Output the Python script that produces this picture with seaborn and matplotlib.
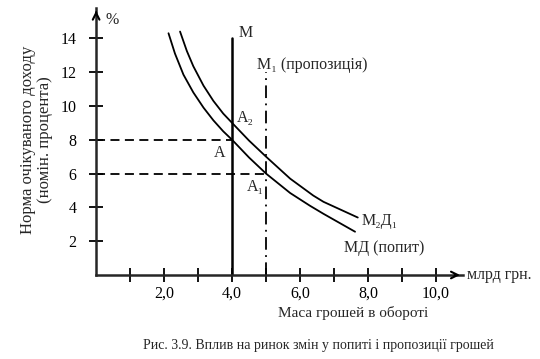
import matplotlib
matplotlib.use("Agg")
import matplotlib.pyplot as plt
import seaborn as sns
import pandas as pd

# demand curves
md_x = [2.13, 2.32, 2.57, 2.86, 3.16, 3.45, 3.74, 4.0, 4.5, 5.0, 5.71, 6.29, 6.69, 7.62]
md_y = [14.3, 13.1, 11.85, 10.8, 9.9, 9.15, 8.5, 8.0, 6.95, 6.0, 4.85, 4.1, 3.62, 2.56]
md1_x = [2.47, 2.67, 2.86, 3.16, 3.45, 3.74, 4.0, 4.5, 5.0, 5.71, 6.39, 6.69, 7.7]
md1_y = [14.4, 13.25, 12.35, 11.2, 10.3, 9.55, 9.0, 7.95, 7.0, 5.7, 4.7, 4.33, 3.4]

m_supply = 4.0
m1_supply = 5.0
rate_a = 8.0
rate_a1 = 6.0

x_ticks = [2, 4, 6, 8, 10]
x_labels = ["2,0", "4,0", "6,0", "8,0", "10,0"]
y_ticks = [2, 4, 6, 8, 10, 12, 14]

sns.set_theme(style="white")
plt.rcParams["font.family"] = ["Liberation Serif", "DejaVu Serif"]
plt.rcParams["axes.linewidth"] = 1.8

fig = plt.figure(figsize=(5.4, 3.59), dpi=100)
ax = fig.add_axes([0.178, 0.234, 0.679, 0.744])

df = pd.concat([
    pd.DataFrame({"x": md_x, "y": md_y, "curve": "MD"}),
    pd.DataFrame({"x": md1_x, "y": md1_y, "curve": "MD1"}),
])
sns.lineplot(data=df, x="x", y="y", units="curve", estimator=None, sort=False,
             color="black", lw=1.3, ax=ax)

# supply lines
ax.plot([m_supply, m_supply], [0, 14], color="black", lw=1.8)
ax.plot([m1_supply, m1_supply], [0, 12], color="black", lw=1.3, ls=(0, (7, 3, 1, 3)))
# guide lines
ax.plot([0, m_supply], [rate_a, rate_a], color="black", lw=1.3, ls=(0, (5, 3)))
ax.plot([0, m1_supply], [rate_a1, rate_a1], color="black", lw=1.3, ls=(0, (5, 3)))

ax.set_xlim(0, 10.79)
ax.set_ylim(0, 15.8)
sns.despine(ax=ax)
ax.set_xticks(x_ticks)
ax.set_xticklabels(x_labels)
ax.set_xticks([1, 3, 5, 7, 9], minor=True)
ax.set_yticks(y_ticks)
ax.tick_params(which="both", bottom=True, left=True, direction="inout", length=10,
               width=1.3, labelsize=11.5, color="black", labelcolor="black")
ax.tick_params(axis="x", pad=3)
ax.tick_params(axis="y", pad=9)
ax.set_xlabel("")
ax.set_ylabel("")

# axis arrows
ax.annotate("", xy=(1.0, 0), xytext=(0.97, 0), xycoords="axes fraction",
            arrowprops=dict(arrowstyle="->", lw=1.5, color="black"))
ax.annotate("", xy=(0, 1.0), xytext=(0, 0.97), xycoords="axes fraction",
            arrowprops=dict(arrowstyle="->", lw=1.5, color="black"))

fs = 11.5
ax.text(0.27, 15.1, "%", fontsize=fs, va="center", ha="left")
ax.text(4.18, 14.3, "M", fontsize=fs, va="center", ha="left")
ax.text(4.73, 12.4, "M₁ (пропозиція)", fontsize=fs, va="center", ha="left")
ax.text(4.15, 9.3, "A₂", fontsize=fs, va="center", ha="left")
ax.text(3.45, 7.2, "A", fontsize=fs, va="center", ha="left")
ax.text(4.44, 5.2, "A₁", fontsize=fs, va="center", ha="left")
ax.text(7.82, 3.2, "M₂Д₁", fontsize=fs, va="center", ha="left")
ax.text(7.29, 1.6, "МД (попит)", fontsize=fs, va="center", ha="left")
ax.text(10.9, 0.0, "млрд грн.", fontsize=fs, va="center", ha="left", clip_on=False)

fig.text(353 / 540, 1 - 313 / 359, "Маса грошей в обороті", fontsize=11,
         ha="center", va="center")
fig.text(28 / 540, 1 - 140 / 359, "Норма очікуваного доходу", fontsize=12,
         ha="center", va="center", rotation=90)
fig.text(45 / 540, 1 - 140 / 359, "(номін. процента)", fontsize=12,
         ha="center", va="center", rotation=90)
fig.text(318 / 540, 1 - 345 / 359,
         "Рис. 3.9. Вплив на ринок змін у попиті і пропозиції грошей",
         fontsize=10, ha="center", va="center")

fig.savefig("out.png", dpi=100)
